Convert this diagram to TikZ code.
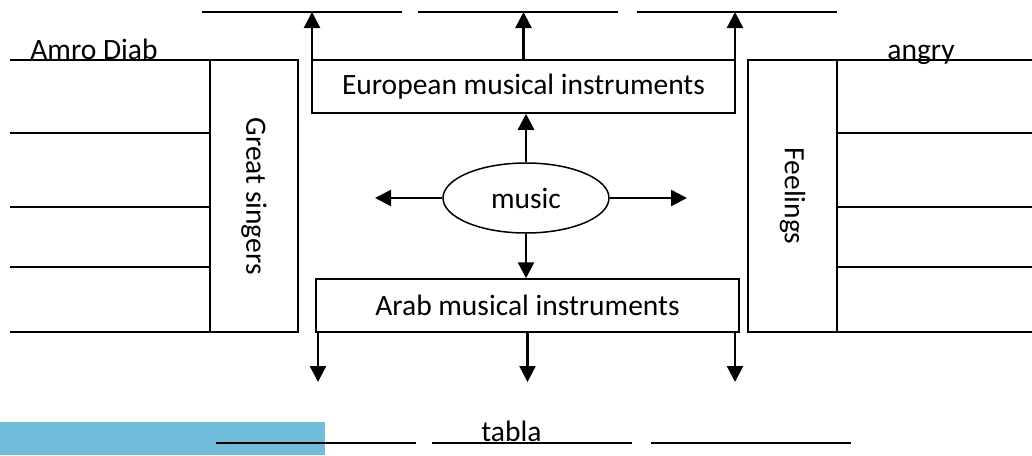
\documentclass[tikz,border=0pt]{standalone}
\usepackage{fontspec}
\setmainfont{Carlito}
\usetikzlibrary{positioning,shapes.geometric,arrows.meta}
\tikzset{>={Triangle[length=8pt,width=8pt]}}
\definecolor{barblue}{RGB}{112,188,219}
\tikzset{
  box/.style={draw,line width=0.75pt,inner sep=0pt},
  arr/.style={->,line width=1.2pt},
  blank/.style={line width=0.75pt},
}

\begin{document}
\begin{tikzpicture}[x=0.5pt,y=-0.5pt,font=\fontsize{14.75}{17}\selectfont]
\useasboundingbox (0,0) rectangle (1032,455);
\fill[barblue] (0,422) rectangle (325,455);
% boxes
\node[box,minimum width=211.5pt,minimum height=26.5pt] (euro) at (523.5,86.5) {European musical instruments};
\node[box,minimum width=211.5pt,minimum height=26.5pt] (arab) at (527.5,305.5) {Arab musical instruments};
\node[box,ellipse,minimum width=83pt,minimum height=35pt] (music) at (526,198) {music};
\node[box,minimum width=44pt,minimum height=136pt] (singers) at (254,196) {\rotatebox{-90}{Great singers}};
\node[box,minimum width=44.5pt,minimum height=136pt] (feel) at (792.5,196) {\rotatebox{-90}{Feelings}};
% blank lines
\foreach \a in {202,418,637}
  \draw[blank] (\a,12) -- ++(200,0);
\foreach \a in {216,432,651}
  \draw[blank] (\a,443) -- ++(200,0);
\foreach \y in {60,133,207,267,332} {
  \draw[blank] (10,\y) -- (singers.west |- 0,\y);
  \draw[blank] (feel.east |- 0,\y) -- (1032,\y);
}
% arrow ends
\coordinate (t1) at (312,12);
\coordinate (t2) at (523.5,12);
\coordinate (t3) at (735,12);
\coordinate (b1) at (318,382);
\coordinate (b2) at (527.5,382);
\coordinate (b3) at (735,382);
\coordinate (lft) at (375,198);
\coordinate (rgt) at (687,198);
\draw[arr] (t1 |- euro.north) -- (t1);
\draw[arr] (euro.north) -- (t2);
\draw[arr] (t3 |- euro.north) -- (t3);
\draw[arr] (music.north) -- (music.north |- euro.south);
\draw[arr] (music.south) -- (music.south |- arab.north);
\draw[arr] (music.west) -- (lft);
\draw[arr] (music.east) -- (rgt);
\draw[arr] (b1 |- arab.south) -- (b1);
\draw[arr] (arab.south) -- (b2);
\draw[arr] (b3 |- arab.south) -- (b3);
% labels
\node[anchor=base west,inner sep=0pt] (amro) at (30,59) {Amro Diab};
\node[anchor=base west,inner sep=0pt] (angry) at (887,59) {angry};
\node[anchor=base west,inner sep=0pt] (tabla) at (481,441) {tabla};
\end{tikzpicture}
\end{document}
